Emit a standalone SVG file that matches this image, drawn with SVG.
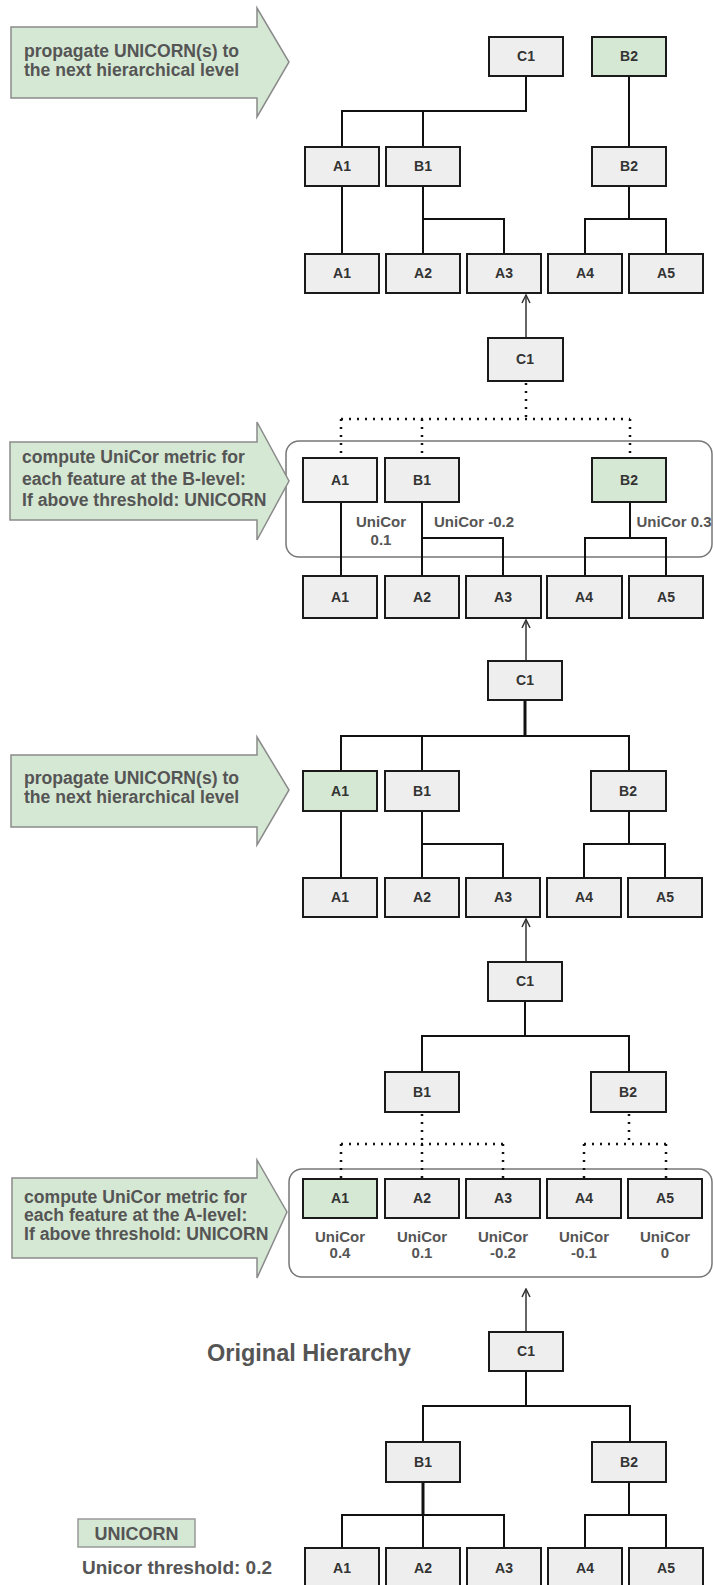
<svg xmlns="http://www.w3.org/2000/svg" width="713" height="1585" viewBox="0 0 713 1585">
<defs>
<style>
.n{fill:#eeeeee;stroke:#1a1a1a;stroke-width:2}
.g{fill:#d5e8d4;stroke:#1a1a1a;stroke-width:2}
.t{font-family:"Liberation Sans",Arial,sans-serif;font-weight:bold;font-size:14px;fill:#333;text-anchor:middle}
.u{font-family:"Liberation Sans",Arial,sans-serif;font-weight:bold;font-size:15px;fill:#555;text-anchor:middle}
.at{font-family:"Liberation Sans",Arial,sans-serif;font-weight:bold;font-size:17.6px;fill:#555}
.ba{fill:#d5e8d4;stroke:#8a8a8a;stroke-width:1.5}
.box{fill:none;stroke:#777;stroke-width:1.5}
.c{fill:none;stroke:#111;stroke-width:2}
.ck{fill:none;stroke:#111;stroke-width:3}
.d{fill:none;stroke:#111;stroke-width:2.5;stroke-dasharray:2 6}
.up{fill:none;stroke:#333;stroke-width:1.5;marker-end:url(#ah)}
</style>
<marker id="ah" viewBox="0 0 10 10" refX="9" refY="5" markerWidth="10" markerHeight="10" markerUnits="userSpaceOnUse" orient="auto">
<path d="M1,1 L9,5 L1,9" fill="none" stroke="#333" stroke-width="1.5"/>
</marker>
</defs>
<rect width="713" height="1585" fill="#ffffff"/>

<!-- containers -->
<rect id="container-b" class="box" x="286" y="441" width="426" height="116" rx="13"/>
<rect id="container-a" class="box" x="289" y="1169" width="423" height="108" rx="13"/>

<g id="connectors">
<!-- section 1 -->
<path class="c" d="M526,76 V111 H342 V147 M423,111 V147"/>
<path class="c" d="M629,76 V147"/>
<path class="c" d="M342,186 V254"/>
<path class="c" d="M423,186 V254 M423,219 H504 V254"/>
<path class="c" d="M629,186 V219 M585,254 V219 H666 V254"/>
<path class="up" d="M526,338 V295"/>
<!-- section 2 -->
<path class="d" d="M526,383 V419 M341,419 H630 M341,419 V458 M422,419 V458 M630,419 V458"/>
<path class="c" d="M341,502 V576"/>
<path class="c" d="M422,502 V576 M422,538 H503 V576"/>
<path class="c" d="M630,502 V538 M585,576 V538 H666 V576"/>
<path class="up" d="M526,661 V620"/>
<!-- section 3 -->
<path class="ck" d="M525,700 V736"/>
<path class="c" d="M341,771 V736 H629 V771 M422,736 V771"/>
<path class="c" d="M341,811 V878"/>
<path class="c" d="M422,811 V878 M422,844 H503 V878"/>
<path class="c" d="M629,811 V844 M584,878 V844 H665 V878"/>
<path class="up" d="M526,962 V919"/>
<!-- section 4 -->
<path class="c" d="M525,1001 V1036 M422,1072 V1036 H629 V1072"/>
<path class="d" d="M422,1114 V1144 M341,1144 H503 M341,1144 V1179 M422,1144 V1179 M503,1144 V1179"/>
<path class="d" d="M629,1114 V1144 M584,1144 H666 M584,1144 V1179 M666,1144 V1179"/>
<path class="up" d="M526,1332 V1289"/>
<!-- section 5 -->
<path class="c" d="M526,1371 V1406 M423,1442 V1406 H630 V1442"/>
<path class="ck" d="M423,1482 V1515"/>
<path class="c" d="M423,1515 V1548 M342,1548 V1515 H504 V1548"/>
<path class="c" d="M629,1482 V1515 M585,1548 V1515 H666 V1548"/>
</g>

<!-- block arrows -->
<g id="step4-propagate">
<polygon class="ba" points="11,27 257,27 257,8 289,62 257,117 257,98 11,98"/>
<text class="at" x="24" y="57">propagate UNICORN(s) to</text>
<text class="at" x="24" y="76">the next hierarchical level</text>
</g>
<g id="step3-compute-b">
<polygon class="ba" points="10,442 257,442 257,422 289,481 257,540 257,520 10,520"/>
<text class="at" x="22" y="463">compute UniCor metric for</text>
<text class="at" x="22" y="485">each feature at the B-level:</text>
<text class="at" x="22" y="506">If above threshold: UNICORN</text>
</g>
<g id="step2-propagate">
<polygon class="ba" points="11,755 257,755 257,737 289,790 257,845 257,827 11,827"/>
<text class="at" x="24" y="784">propagate UNICORN(s) to</text>
<text class="at" x="24" y="803">the next hierarchical level</text>
</g>
<g id="step1-compute-a">
<polygon class="ba" points="12,1178 257,1178 257,1160 287,1212 257,1278 257,1258 12,1258"/>
<text class="at" x="24" y="1203">compute UniCor metric for</text>
<text class="at" x="24" y="1221">each feature at the A-level:</text>
<text class="at" x="24" y="1240">If above threshold: UNICORN</text>
</g>

<!-- section 1 nodes -->
<g id="s1-C1"><rect class="n" x="489" y="37" width="74" height="39"/><text class="t" x="526" y="61">C1</text></g>
<g id="s1-B2-top"><rect class="g" x="592" y="37" width="74" height="39"/><text class="t" x="629" y="61">B2</text></g>
<g id="s1-A1-mid"><rect class="n" x="305" y="147" width="74" height="39"/><text class="t" x="342" y="171">A1</text></g>
<g id="s1-B1"><rect class="n" x="386" y="147" width="74" height="39"/><text class="t" x="423" y="171">B1</text></g>
<g id="s1-B2"><rect class="n" x="592" y="147" width="74" height="39"/><text class="t" x="629" y="171">B2</text></g>
<g id="s1-A1"><rect class="n" x="305" y="254" width="74" height="39"/><text class="t" x="342" y="278">A1</text></g>
<g id="s1-A2"><rect class="n" x="386" y="254" width="74" height="39"/><text class="t" x="423" y="278">A2</text></g>
<g id="s1-A3"><rect class="n" x="467" y="254" width="74" height="39"/><text class="t" x="504" y="278">A3</text></g>
<g id="s1-A4"><rect class="n" x="548" y="254" width="74" height="39"/><text class="t" x="585" y="278">A4</text></g>
<g id="s1-A5"><rect class="n" x="629" y="254" width="74" height="39"/><text class="t" x="666" y="278">A5</text></g>

<!-- section 2 nodes -->
<g id="s2-C1"><rect class="n" x="488" y="338" width="75" height="43"/><text class="t" x="525" y="364">C1</text></g>
<g id="s2-A1-mid"><rect class="n" x="303" y="458" width="74" height="44" style="fill:#f2f2f2"/><text class="t" x="340" y="485">A1</text></g>
<g id="s2-B1"><rect class="n" x="385" y="458" width="74" height="44"/><text class="t" x="422" y="485">B1</text></g>
<g id="s2-B2"><rect class="g" x="592" y="458" width="74" height="44"/><text class="t" x="629" y="485">B2</text></g>
<g id="s2-labels">
<text class="u" x="381" y="527">UniCor</text>
<text class="u" x="381" y="545">0.1</text>
<text class="u" x="474" y="527">UniCor -0.2</text>
<text class="u" x="674" y="527">UniCor 0.3</text>
</g>
<g id="s2-A1"><rect class="n" x="303" y="576" width="74" height="42"/><text class="t" x="340" y="602">A1</text></g>
<g id="s2-A2"><rect class="n" x="385" y="576" width="74" height="42"/><text class="t" x="422" y="602">A2</text></g>
<g id="s2-A3"><rect class="n" x="466" y="576" width="75" height="42"/><text class="t" x="503" y="602">A3</text></g>
<g id="s2-A4"><rect class="n" x="547" y="576" width="75" height="42"/><text class="t" x="584" y="602">A4</text></g>
<g id="s2-A5"><rect class="n" x="629" y="576" width="74" height="42"/><text class="t" x="666" y="602">A5</text></g>

<!-- section 3 nodes -->
<g id="s3-C1"><rect class="n" x="488" y="661" width="74" height="39"/><text class="t" x="525" y="685">C1</text></g>
<g id="s3-A1-mid"><rect class="g" x="303" y="771" width="74" height="40"/><text class="t" x="340" y="796">A1</text></g>
<g id="s3-B1"><rect class="n" x="385" y="771" width="74" height="40"/><text class="t" x="422" y="796">B1</text></g>
<g id="s3-B2"><rect class="n" x="591" y="771" width="75" height="40"/><text class="t" x="628" y="796">B2</text></g>
<g id="s3-A1"><rect class="n" x="303" y="878" width="74" height="39"/><text class="t" x="340" y="902">A1</text></g>
<g id="s3-A2"><rect class="n" x="385" y="878" width="74" height="39"/><text class="t" x="422" y="902">A2</text></g>
<g id="s3-A3"><rect class="n" x="466" y="878" width="74" height="39"/><text class="t" x="503" y="902">A3</text></g>
<g id="s3-A4"><rect class="n" x="547" y="878" width="74" height="39"/><text class="t" x="584" y="902">A4</text></g>
<g id="s3-A5"><rect class="n" x="628" y="878" width="74" height="39"/><text class="t" x="665" y="902">A5</text></g>

<!-- section 4 nodes -->
<g id="s4-C1"><rect class="n" x="488" y="962" width="74" height="39"/><text class="t" x="525" y="986">C1</text></g>
<g id="s4-B1"><rect class="n" x="385" y="1072" width="74" height="40"/><text class="t" x="422" y="1097">B1</text></g>
<g id="s4-B2"><rect class="n" x="591" y="1072" width="75" height="40"/><text class="t" x="628" y="1097">B2</text></g>
<g id="s4-A1"><rect class="g" x="303" y="1179" width="74" height="39"/><text class="t" x="340" y="1203">A1</text></g>
<g id="s4-A2"><rect class="n" x="385" y="1179" width="74" height="39"/><text class="t" x="422" y="1203">A2</text></g>
<g id="s4-A3"><rect class="n" x="466" y="1179" width="74" height="39"/><text class="t" x="503" y="1203">A3</text></g>
<g id="s4-A4"><rect class="n" x="547" y="1179" width="74" height="39"/><text class="t" x="584" y="1203">A4</text></g>
<g id="s4-A5"><rect class="n" x="628" y="1179" width="74" height="39"/><text class="t" x="665" y="1203">A5</text></g>
<g id="s4-labels">
<text class="u" x="340" y="1242">UniCor</text><text class="u" x="340" y="1258">0.4</text>
<text class="u" x="422" y="1242">UniCor</text><text class="u" x="422" y="1258">0.1</text>
<text class="u" x="503" y="1242">UniCor</text><text class="u" x="503" y="1258">-0.2</text>
<text class="u" x="584" y="1242">UniCor</text><text class="u" x="584" y="1258">-0.1</text>
<text class="u" x="665" y="1242">UniCor</text><text class="u" x="665" y="1258">0</text>
</g>

<!-- section 5: original hierarchy -->
<g id="title"><text x="207" y="1361" style="font-family:'Liberation Sans',Arial,sans-serif;font-weight:bold;font-size:23.5px;fill:#555">Original Hierarchy</text></g>
<g id="s5-C1"><rect class="n" x="489" y="1332" width="74" height="39"/><text class="t" x="526" y="1356">C1</text></g>
<g id="s5-B1"><rect class="n" x="386" y="1442" width="74" height="40"/><text class="t" x="423" y="1467">B1</text></g>
<g id="s5-B2"><rect class="n" x="592" y="1442" width="74" height="40"/><text class="t" x="629" y="1467">B2</text></g>
<g id="s5-A1"><rect class="n" x="305" y="1548" width="74" height="45"/><text class="t" x="342" y="1573">A1</text></g>
<g id="s5-A2"><rect class="n" x="386" y="1548" width="74" height="45"/><text class="t" x="423" y="1573">A2</text></g>
<g id="s5-A3"><rect class="n" x="467" y="1548" width="74" height="45"/><text class="t" x="504" y="1573">A3</text></g>
<g id="s5-A4"><rect class="n" x="548" y="1548" width="74" height="45"/><text class="t" x="585" y="1573">A4</text></g>
<g id="s5-A5"><rect class="n" x="629" y="1548" width="74" height="45"/><text class="t" x="666" y="1573">A5</text></g>

<!-- legend -->
<g id="legend">
<rect x="78" y="1519" width="117" height="28" fill="#d5e8d4" stroke="#999" stroke-width="1.5"/>
<text x="136.5" y="1539.5" style="font-family:'Liberation Sans',Arial,sans-serif;font-weight:bold;font-size:18px;fill:#555;text-anchor:middle">UNICORN</text>
<text x="82" y="1574" style="font-family:'Liberation Sans',Arial,sans-serif;font-weight:bold;font-size:19px;fill:#555">Unicor threshold: 0.2</text>
</g>
</svg>
